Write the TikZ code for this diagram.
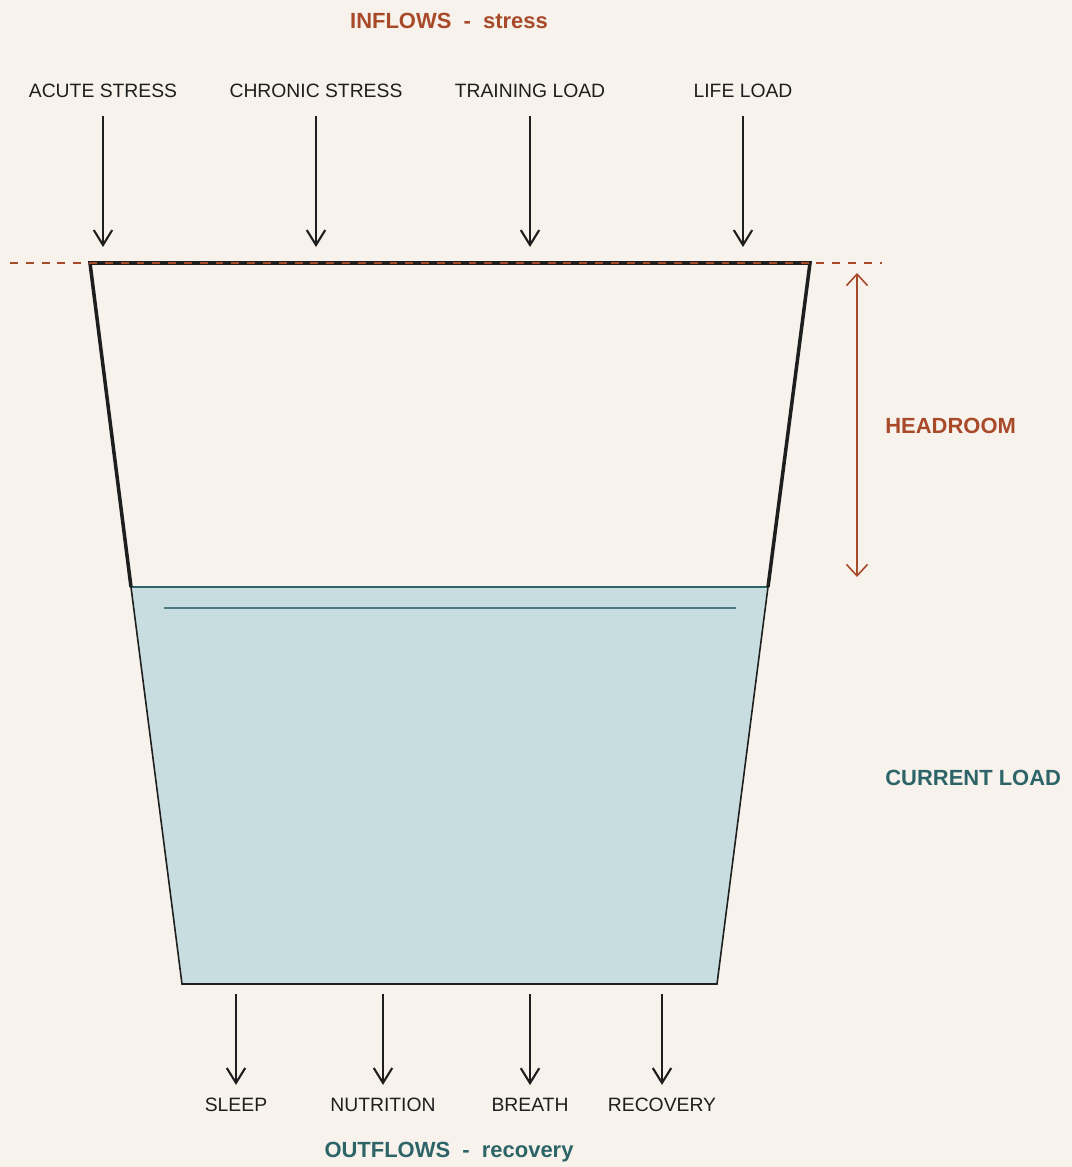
\documentclass[tikz,border=0pt]{standalone}
\usepackage{fontspec}
\setmainfont{Liberation Sans}
\usetikzlibrary{arrows.meta, positioning}
\definecolor{Paper}{HTML}{F7F3EC}
\definecolor{Ink}{HTML}{1E1E1E}
\definecolor{Rust}{HTML}{A84A2A}
\definecolor{Teal}{HTML}{2D6468}
\definecolor{TealLine}{HTML}{4A7A80}
\definecolor{Water}{HTML}{C7DDDF}
\tikzset{
  flow/.style={-{Straight Barb[length=8.5pt, width=10.5pt]}, line width=1.2pt, color=Ink},
  dim/.style={{Straight Barb[length=6.5pt, width=12pt]}-{Straight Barb[length=6.5pt, width=12pt]}, line width=0.9pt, color=Rust},
  label/.style={color=Ink, font=\fontsize{11}{13}\selectfont},
  title/.style={font=\fontsize{12.5}{15}\selectfont\bfseries},
  wall/.style={draw=Ink, line width=2pt},
  base/.style={draw=Ink, line width=0.9pt},
  water/.style={fill=Water},
  surface/.style={draw=Teal, line width=1.6pt},
  ripple/.style={draw=TealLine, line width=0.8pt},
  dashedguide/.style={dash pattern=on 4.5pt off 4.5pt, color=Rust, line width=1.2pt},
}

\begin{document}
\begin{tikzpicture}[x=0.02cm, y=-0.02cm]
  \fill[Paper] (0,0) rectangle (1072,1167);
  \useasboundingbox (0,0) rectangle (1072,1167);

  % Water in the cup
  \fill[water] (131,587) -- (768,587) -- (717,984) -- (182,984) -- cycle;
  \draw[surface] (131,587) -- (768,587);
  \draw[ripple] (164,608) -- (736,608);

  % Cup walls
  \draw[wall] (131,587) -- (90,263) -- (810,263) -- (768,587);
  \draw[base] (131,587) -- (182,984) -- (717,984) -- (768,587);

  % Brim line
  \draw[dashedguide] (10,263) -- (882,263);

  % Inflows
  \node[title, color=Rust] (inflows) at (449,21) {INFLOWS\ \ -\ \ stress};
  \node[label] (acute) at (103,91) {ACUTE STRESS};
  \node[label] (chronic) at (316,91) {CHRONIC STRESS};
  \node[label] (training) at (530,91) {TRAINING LOAD};
  \node[label] (life) at (743,91) {LIFE LOAD};
  \coordinate (acute-in) at (103,247);
  \coordinate (chronic-in) at (316,247);
  \coordinate (training-in) at (530,247);
  \coordinate (life-in) at (743,247);
  \draw[flow, shorten <=7pt] (acute) -- (acute-in);
  \draw[flow, shorten <=7pt] (chronic) -- (chronic-in);
  \draw[flow, shorten <=7pt] (training) -- (training-in);
  \draw[flow, shorten <=7pt] (life) -- (life-in);

  % Headroom
  \coordinate (head-top) at (857,273);
  \coordinate (head-bot) at (857,577);
  \draw[dim] (head-top) -- (head-bot);
  \node[title, color=Rust, anchor=west, inner sep=0pt] (headroom) at (885,426) {HEADROOM};
  \node[title, color=Teal, anchor=west, inner sep=0pt] (load) at (885,778) {CURRENT LOAD};

  % Outflows
  \node[label] (sleep) at (236,1105) {SLEEP};
  \node[label] (nutrition) at (383,1105) {NUTRITION};
  \node[label] (breath) at (530,1105) {BREATH};
  \node[label] (recovery) at (662,1105) {RECOVERY};
  \coordinate (sleep-out) at (236,994);
  \coordinate (nutrition-out) at (383,994);
  \coordinate (breath-out) at (530,994);
  \coordinate (recovery-out) at (662,994);
  \draw[flow, shorten >=4pt] (sleep-out) -- (sleep);
  \draw[flow, shorten >=4pt] (nutrition-out) -- (nutrition);
  \draw[flow, shorten >=4pt] (breath-out) -- (breath);
  \draw[flow, shorten >=4pt] (recovery-out) -- (recovery);
  \node[title, color=Teal] (outflows) at (449,1152) {OUTFLOWS\ \ -\ \ recovery};
\end{tikzpicture}
\end{document}
